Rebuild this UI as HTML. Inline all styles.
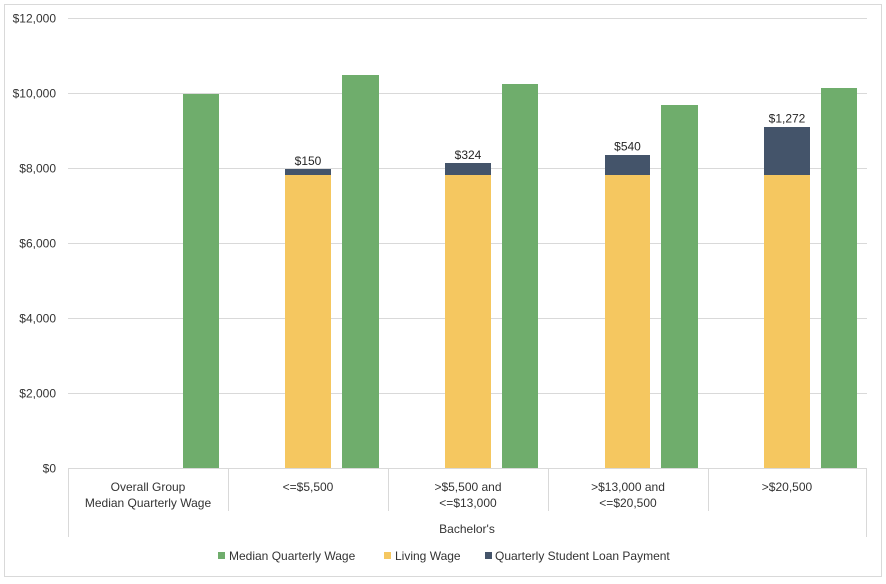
<!DOCTYPE html>
<html>
<head>
<meta charset="utf-8">
<style>
html,body{margin:0;padding:0;background:#fff;}
svg{display:block;}
text{font-family:"Liberation Sans",Arial,sans-serif;font-size:12px;fill:#333;}
</style>
</head>
<body>
<svg width="886" height="584" viewBox="0 0 886 584" xmlns="http://www.w3.org/2000/svg">
  <rect x="0" y="0" width="886" height="584" fill="#fff"/>
  <rect x="4.5" y="4.5" width="877" height="572" fill="none" stroke="#D9D9D9" stroke-width="1"/>

  <!-- gridlines -->
  <g stroke="#D9D9D9" stroke-width="1">
    <line x1="68" y1="18.5" x2="867" y2="18.5"/>
    <line x1="68" y1="93.5" x2="867" y2="93.5"/>
    <line x1="68" y1="168.5" x2="867" y2="168.5"/>
    <line x1="68" y1="243.5" x2="867" y2="243.5"/>
    <line x1="68" y1="318.5" x2="867" y2="318.5"/>
    <line x1="68" y1="393.5" x2="867" y2="393.5"/>
  </g>

  <!-- y labels -->
  <g text-anchor="end">
    <text x="56" y="22.5">$12,000</text>
    <text x="56" y="97.5">$10,000</text>
    <text x="56" y="172.5">$8,000</text>
    <text x="56" y="247.5">$6,000</text>
    <text x="56" y="322.5">$4,000</text>
    <text x="56" y="397.5">$2,000</text>
    <text x="56" y="472.5">$0</text>
  </g>

  <!-- bars -->
  <g>
    <!-- cat 1 -->
    <rect x="183" y="94" width="36" height="374.5" fill="#6FAD6C"/>
    <!-- cat 2 -->
    <rect x="285" y="175" width="46" height="293.5" fill="#F5C760"/>
    <rect x="285" y="169" width="46" height="6" fill="#44546A"/>
    <rect x="342" y="75" width="37" height="393.5" fill="#6FAD6C"/>
    <!-- cat 3 -->
    <rect x="445" y="175" width="46" height="293.5" fill="#F5C760"/>
    <rect x="445" y="163" width="46" height="12" fill="#44546A"/>
    <rect x="502" y="84" width="36" height="384.5" fill="#6FAD6C"/>
    <!-- cat 4 -->
    <rect x="605" y="175" width="45" height="293.5" fill="#F5C760"/>
    <rect x="605" y="155" width="45" height="20" fill="#44546A"/>
    <rect x="661" y="105" width="37" height="363.5" fill="#6FAD6C"/>
    <!-- cat 5 -->
    <rect x="764" y="175" width="46" height="293.5" fill="#F5C760"/>
    <rect x="764" y="127" width="46" height="48" fill="#44546A"/>
    <rect x="821" y="88" width="36" height="380.5" fill="#6FAD6C"/>
  </g>

  <!-- data labels -->
  <g text-anchor="middle" style="fill:#262626">
    <text x="308" y="165" style="fill:#262626">$150</text>
    <text x="468" y="159" style="fill:#262626">$324</text>
    <text x="627.5" y="150.5" style="fill:#262626">$540</text>
    <text x="787" y="122.5" style="fill:#262626">$1,272</text>
  </g>

  <!-- axis and category dividers -->
  <g stroke="#D9D9D9" stroke-width="1">
    <line x1="68" y1="468.5" x2="867" y2="468.5"/>
    <line x1="68.5" y1="468.5" x2="68.5" y2="537"/>
    <line x1="228.5" y1="468.5" x2="228.5" y2="511"/>
    <line x1="388.5" y1="468.5" x2="388.5" y2="511"/>
    <line x1="548.5" y1="468.5" x2="548.5" y2="511"/>
    <line x1="708.5" y1="468.5" x2="708.5" y2="511"/>
    <line x1="866.5" y1="468.5" x2="866.5" y2="537"/>
  </g>

  <!-- category labels -->
  <g text-anchor="middle">
    <text x="148" y="491">Overall Group</text>
    <text x="148" y="507">Median Quarterly Wage</text>
    <text x="308" y="491">&lt;=$5,500</text>
    <text x="468" y="491">&gt;$5,500 and</text>
    <text x="468" y="507">&lt;=$13,000</text>
    <text x="628" y="491">&gt;$13,000 and</text>
    <text x="628" y="507">&lt;=$20,500</text>
    <text x="787" y="491">&gt;$20,500</text>
    <text x="467" y="533">Bachelor's</text>
  </g>

  <!-- legend -->
  <rect x="218" y="552" width="7" height="7" fill="#6FAD6C"/>
  <text x="229" y="560">Median Quarterly Wage</text>
  <rect x="384" y="552" width="7" height="7" fill="#F5C760"/>
  <text x="395" y="560">Living Wage</text>
  <rect x="485" y="552" width="7" height="7" fill="#44546A"/>
  <text x="495" y="560">Quarterly Student Loan Payment</text>
</svg>
</body>
</html>
